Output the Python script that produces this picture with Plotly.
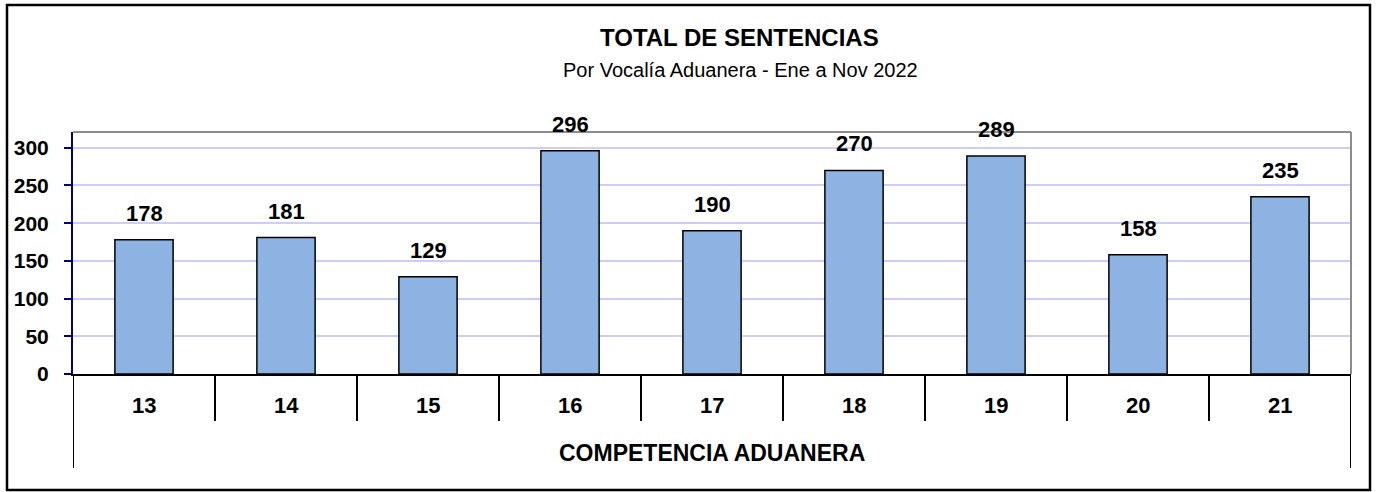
import plotly.graph_objects as go

categories = ["13", "14", "15", "16", "17", "18", "19", "20", "21"]
values = [178, 181, 129, 296, 190, 270, 289, 158, 235]
y_ticks = [0, 50, 100, 150, 200, 250, 300]

title = "TOTAL DE SENTENCIAS"
subtitle = "Por Vocalía Aduanera - Ene a Nov 2022"
x_title = "COMPETENCIA ADUANERA"

W, H = 1380, 492
L, R, T, B = 73, 1351, 132, 374
pw, ph = R - L, B - T

def px_x(px):
    return (px - L) / pw

def px_y(py):
    return (B - py) / ph

FONT = "Arial, Liberation Sans, sans-serif"

fig = go.Figure()
fig.add_trace(go.Bar(
    x=list(range(len(categories))), y=values, width=0.41,
    marker=dict(color="#8DB3E2", line=dict(color="#000000", width=1.5)),
    hoverinfo="x+y",
))

ann = []
for i, v in enumerate(values):
    ann.append(dict(x=i, y=v, xref="x", yref="y", text=str(v), showarrow=False,
                    yanchor="bottom", yshift=12,
                    font=dict(family=FONT, size=22, color="#000000", weight="bold")))
for i, c in enumerate(categories):
    ann.append(dict(x=i, y=px_y(405), xref="x", yref="paper", text=c, showarrow=False,
                    yanchor="middle",
                    font=dict(family=FONT, size=22, color="#000000", weight="bold")))
ann.append(dict(x=4, y=px_y(453), xref="x", yref="paper", text=x_title, showarrow=False,
                yanchor="middle",
                font=dict(family=FONT, size=23, color="#000000", weight="bold")))
ann.append(dict(x=px_x(739), y=px_y(38), xref="paper", yref="paper", text=title, showarrow=False,
                yanchor="middle",
                font=dict(family=FONT, size=24, color="#000000", weight="bold")))
ann.append(dict(x=px_x(740), y=px_y(70), xref="paper", yref="paper", text=subtitle, showarrow=False,
                yanchor="middle",
                font=dict(family=FONT, size=20, color="#000000")))

shapes = []
# outer frame
shapes.append(dict(type="rect", xref="paper", yref="paper",
                   x0=px_x(7), x1=px_x(1370), y0=px_y(490), y1=px_y(5),
                   line=dict(color="#000000", width=2.5), layer="below"))
# plot top & right border (grey)
shapes.append(dict(type="line", xref="paper", yref="paper", x0=0, x1=1, y0=1, y1=1,
                   line=dict(color="#8C8C8C", width=2)))
shapes.append(dict(type="line", xref="paper", yref="paper", x0=1, x1=1, y0=0, y1=1,
                   line=dict(color="#8C8C8C", width=2)))
# category separators
for k in range(1, len(categories)):
    shapes.append(dict(type="line", xref="x", yref="paper", x0=k - 0.5, x1=k - 0.5,
                       y0=0, y1=px_y(421), line=dict(color="#000000", width=2)))
for xe in (-0.5, len(categories) - 0.5):
    shapes.append(dict(type="line", xref="x", yref="paper", x0=xe, x1=xe,
                       y0=0, y1=px_y(468), line=dict(color="#000000", width=2)))

fig.update_layout(
    width=W, height=H,
    margin=dict(l=L, r=W - R, t=T, b=H - B, pad=0),
    paper_bgcolor="#FFFFFF", plot_bgcolor="#FFFFFF",
    showlegend=False,
    annotations=ann, shapes=shapes,
    font=dict(family=FONT, color="#000000"),
    xaxis=dict(range=[-0.5, len(categories) - 0.5], showticklabels=False, ticks="",
               showgrid=False, zeroline=False, showline=True, linecolor="#000000",
               linewidth=2, fixedrange=True),
    yaxis=dict(range=[0, ph / 226 * 300 * 0.999], tickvals=y_ticks, ticks="outside",
               ticklen=7, tickwidth=2, tickcolor="#000080",
               showline=True, linecolor="#000080", linewidth=2,
               showgrid=True, gridcolor="#CCCCFF", gridwidth=1.5, zeroline=False,
               tickfont=dict(family=FONT, size=21, color="#000000", weight="bold"),
               ticklabelstandoff=11, fixedrange=True),
)

fig.write_html("out.html", config={"displayModeBar": False},
               post_script="document.body.style.margin='0';document.body.style.padding='0';")
